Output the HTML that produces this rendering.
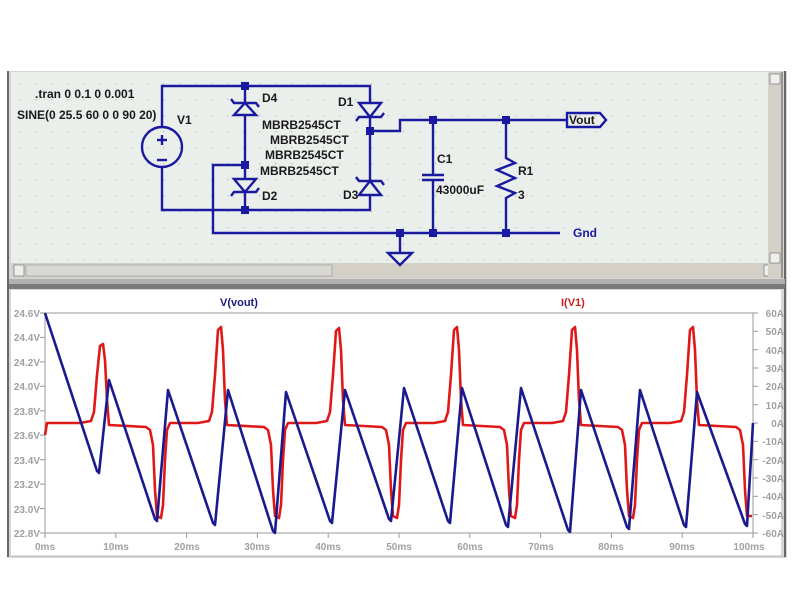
<!DOCTYPE html>
<html><head><meta charset="utf-8"><style>
html,body{margin:0;padding:0;background:#fff;width:800px;height:600px;overflow:hidden}
svg{display:block}
.t{font-family:"Liberation Sans",Arial,sans-serif;font-size:12px;font-weight:bold;fill:#1a1a1a}
.ax{font-family:"Liberation Sans",Arial,sans-serif;font-size:10px;fill:#a0a0a0;font-weight:bold}
</style></head><body>
<svg width="800" height="600" viewBox="0 0 800 600" xmlns="http://www.w3.org/2000/svg">
<defs>
<pattern id="dots" x="3" y="3" width="16" height="16" patternUnits="userSpaceOnUse">
<rect x="0" y="0" width="1.3" height="1.3" fill="#b8c2b8"/>
</pattern>
</defs>
<rect x="7" y="71" width="780" height="487" fill="#d6d6d6"/>
<line x1="8" y1="71" x2="8" y2="557" stroke="#444" stroke-width="1.5"/>
<line x1="785" y1="71" x2="785" y2="557" stroke="#444" stroke-width="1.5"/>
<rect x="11" y="72" width="757" height="191" fill="#ebefeb"/>
<rect x="11" y="72" width="757" height="191" fill="url(#dots)"/>
<rect x="11" y="263" width="757" height="15" fill="#d4d0c8"/>
<rect x="14" y="265" width="10" height="11" fill="#eee" stroke="#666" stroke-width="0.6"/>
<rect x="26" y="265" width="306" height="11" fill="#d8d8d4" stroke="#888" stroke-width="0.5"/>
<rect x="764" y="265" width="10" height="11" fill="#eee" stroke="#666" stroke-width="0.6"/>
<rect x="768" y="72" width="14" height="206" fill="#d4d0c8"/>
<rect x="770" y="74" width="10" height="10" fill="#eee" stroke="#666" stroke-width="0.6"/>
<rect x="770" y="253" width="10" height="10" fill="#eee" stroke="#666" stroke-width="0.6"/>
<line x1="782" y1="72" x2="782" y2="278" stroke="#555"/>
<rect x="9" y="279" width="776" height="5" fill="#b0b0b0"/>
<rect x="9" y="284" width="776" height="5" fill="#7a7a7a"/>
<rect x="11" y="290" width="770" height="266" fill="#fff"/>
<line x1="11" y1="556" x2="783" y2="556" stroke="#bbb"/>

<g stroke="#1a1aa0" stroke-width="2.4" fill="none">
<polyline points="162,127 162,86 370,86 370,102"/>
<polyline points="162,167 162,210 370,210 370,195"/>
<line x1="245" y1="86" x2="245" y2="210"/>
<line x1="370" y1="117" x2="370" y2="180"/>
<polyline points="370,131 400,131 400,120 567,120"/>
<polyline points="245,165 213,165 213,233 560,233"/>
<line x1="400" y1="233" x2="400" y2="253"/>
<polygon points="388,253 412,253 400,265"/>
<line x1="433" y1="120" x2="433" y2="175"/>
<line x1="433" y1="180" x2="433" y2="233"/>
<line x1="422" y1="175" x2="444" y2="175"/>
<line x1="422" y1="180" x2="444" y2="180"/>
<polyline points="506,120 506,158 515,163 497,170 515,178 497,186 515,193 506,198 506,233"/>
<circle cx="162" cy="147" r="20"/>
<line x1="162" y1="135" x2="162" y2="145"/><line x1="157" y1="140" x2="167" y2="140"/>
<line x1="157" y1="160" x2="167" y2="160"/>
<polygon points="567,113 600,113 606,120 600,127 567,127"/>
<polygon points="234,115 256,115 245,103" fill="#ebefeb"/>
<polyline points="231,99 234,103 256,103 259,107"/>
<polygon points="234,179 256,179 245,192" fill="#ebefeb"/>
<polyline points="231,196 234,192 256,192 259,188"/>
<polygon points="359,103 381,103 370,117" fill="#ebefeb"/>
<polyline points="356,121 359,117 381,117 384,113"/>
<polygon points="359,195 381,195 370,181" fill="#ebefeb"/>
<polyline points="356,177 359,181 381,181 384,185"/>
</g>
<g fill="#1a1aa0">
<rect x="241" y="82" width="8" height="8"/><rect x="241" y="206" width="8" height="8"/>
<rect x="241" y="161" width="8" height="8"/><rect x="366" y="127" width="8" height="8"/>
<rect x="429" y="116" width="8" height="8"/><rect x="502" y="116" width="8" height="8"/>
<rect x="396" y="229" width="8" height="8"/><rect x="429" y="229" width="8" height="8"/>
<rect x="502" y="229" width="8" height="8"/>
</g>
<text class="t" x="35" y="98">.tran 0 0.1 0 0.001</text>
<text class="t" x="17" y="119">SINE(0 25.5 60 0 0 90 20)</text>
<text class="t" x="177" y="124">V1</text>
<text class="t" x="262" y="102">D4</text>
<text class="t" x="262" y="129">MBRB2545CT</text>
<text class="t" x="270" y="144">MBRB2545CT</text>
<text class="t" x="265" y="159">MBRB2545CT</text>
<text class="t" x="260" y="175">MBRB2545CT</text>
<text class="t" x="338" y="106">D1</text>
<text class="t" x="343" y="199">D3</text>
<text class="t" x="262" y="200">D2</text>
<text class="t" x="437" y="163">C1</text>
<text class="t" x="436" y="194">43000uF</text>
<text class="t" x="518" y="175">R1</text>
<text class="t" x="518" y="199">3</text>
<text class="t" x="573" y="237" style="fill:#1a1aa0">Gnd</text>
<text class="t" x="569" y="124">Vout</text>

<text class="t" x="220" y="306" style="font-size:11px;fill:#1a1a80">V(vout)</text>
<text class="t" x="561" y="306" style="font-size:11px;fill:#cc2020">I(V1)</text>
<rect x="45" y="313" width="708" height="220" fill="none" stroke="#999" stroke-width="1"/>
<g stroke="#999">
<line x1="40" y1="313" x2="45" y2="313"/><line x1="40" y1="337.4" x2="45" y2="337.4"/><line x1="40" y1="361.9" x2="45" y2="361.9"/><line x1="40" y1="386.3" x2="45" y2="386.3"/><line x1="40" y1="410.8" x2="45" y2="410.8"/><line x1="40" y1="435.2" x2="45" y2="435.2"/><line x1="40" y1="459.7" x2="45" y2="459.7"/><line x1="40" y1="484.1" x2="45" y2="484.1"/><line x1="40" y1="508.6" x2="45" y2="508.6"/><line x1="40" y1="533" x2="45" y2="533"/>
<line x1="753" y1="313" x2="758" y2="313"/><line x1="753" y1="331.3" x2="758" y2="331.3"/><line x1="753" y1="349.7" x2="758" y2="349.7"/><line x1="753" y1="368" x2="758" y2="368"/><line x1="753" y1="386.3" x2="758" y2="386.3"/><line x1="753" y1="404.7" x2="758" y2="404.7"/><line x1="753" y1="423" x2="758" y2="423"/><line x1="753" y1="441.3" x2="758" y2="441.3"/><line x1="753" y1="459.7" x2="758" y2="459.7"/><line x1="753" y1="478" x2="758" y2="478"/><line x1="753" y1="496.3" x2="758" y2="496.3"/><line x1="753" y1="514.7" x2="758" y2="514.7"/><line x1="753" y1="533" x2="758" y2="533"/>
<line x1="45" y1="533" x2="45" y2="538"/><line x1="115.8" y1="533" x2="115.8" y2="538"/><line x1="186.6" y1="533" x2="186.6" y2="538"/><line x1="257.4" y1="533" x2="257.4" y2="538"/><line x1="328.2" y1="533" x2="328.2" y2="538"/><line x1="399" y1="533" x2="399" y2="538"/><line x1="469.8" y1="533" x2="469.8" y2="538"/><line x1="540.6" y1="533" x2="540.6" y2="538"/><line x1="611.4" y1="533" x2="611.4" y2="538"/><line x1="682.2" y1="533" x2="682.2" y2="538"/><line x1="753" y1="533" x2="753" y2="538"/>
</g>
<g class="ax" text-anchor="end">
<text x="40" y="317">24.6V</text><text x="40" y="341">24.4V</text><text x="40" y="366">24.2V</text><text x="40" y="390">24.0V</text><text x="40" y="415">23.8V</text><text x="40" y="439">23.6V</text><text x="40" y="464">23.4V</text><text x="40" y="488">23.2V</text><text x="40" y="513">23.0V</text><text x="40" y="537">22.8V</text>
</g>
<g class="ax" text-anchor="end">
<text x="784" y="317">60A</text><text x="784" y="335">50A</text><text x="784" y="354">40A</text><text x="784" y="372">30A</text><text x="784" y="390">20A</text><text x="784" y="409">10A</text><text x="784" y="427">0A</text><text x="784" y="445">-10A</text><text x="784" y="464">-20A</text><text x="784" y="482">-30A</text><text x="784" y="500">-40A</text><text x="784" y="519">-50A</text><text x="784" y="537">-60A</text>
</g>
<g class="ax" text-anchor="middle">
<text x="45" y="550">0ms</text><text x="116" y="550">10ms</text><text x="187" y="550">20ms</text><text x="257" y="550">30ms</text><text x="328" y="550">40ms</text><text x="399" y="550">50ms</text><text x="470" y="550">60ms</text><text x="541" y="550">70ms</text><text x="611" y="550">80ms</text><text x="682" y="550">90ms</text><text x="749" y="550">100ms</text>
</g>
<polyline fill="none" stroke="#e01818" stroke-width="2.6" stroke-linejoin="round" points="45,435 47,423 80,423 91,421 94,412 97,375 100,346 103,344 105,360 107,400 109,425 146,427 150,430 153,445 155,490 157,516 161,518 163,505 165,460 167,430 170,423 198,423 209,421 212,412 215,375 218,330 221,327 223,350 225,400 227,425 264,427 268,430 271,445 273,490 275,516 279,518 281,505 283,460 285,430 288,423 316,423 327,421 330,412 333,375 336,331 339,328 341,350 343,400 345,425 382,427 386,430 389,445 391,490 393,516 397,518 399,505 401,460 403,430 406,423 434,423 445,421 448,412 451,375 454,330 457,327 459,350 461,400 463,425 500,427 504,430 507,445 509,490 511,516 515,518 517,505 519,460 521,430 524,423 552,423 563,421 566,412 569,375 572,330 575,327 577,350 579,400 581,425 618,427 622,430 625,445 627,490 629,516 633,518 635,505 637,460 639,430 642,423 670,423 681,421 684,412 687,375 690,330 693,327 695,350 697,400 699,425 736,427 740,430 743,445 745,490 747,516 752,516"/>
<polyline fill="none" stroke="#1a1a90" stroke-width="2.6" stroke-linejoin="round" points="45,313 97,471 99,473 109,380 155,519 157,521 168,390 213,523 215,525 228,390 273,531 275,533 286,392 330,521 332,523 345,390 389,519 391,521 404,388 448,521 450,523 462,388 506,525 508,527 521,388 568,530 570,532 581,390 627,527 629,529 640,390 684,525 686,527 697,392 745,524 747,526 753,423"/>
</svg>
</body></html>
